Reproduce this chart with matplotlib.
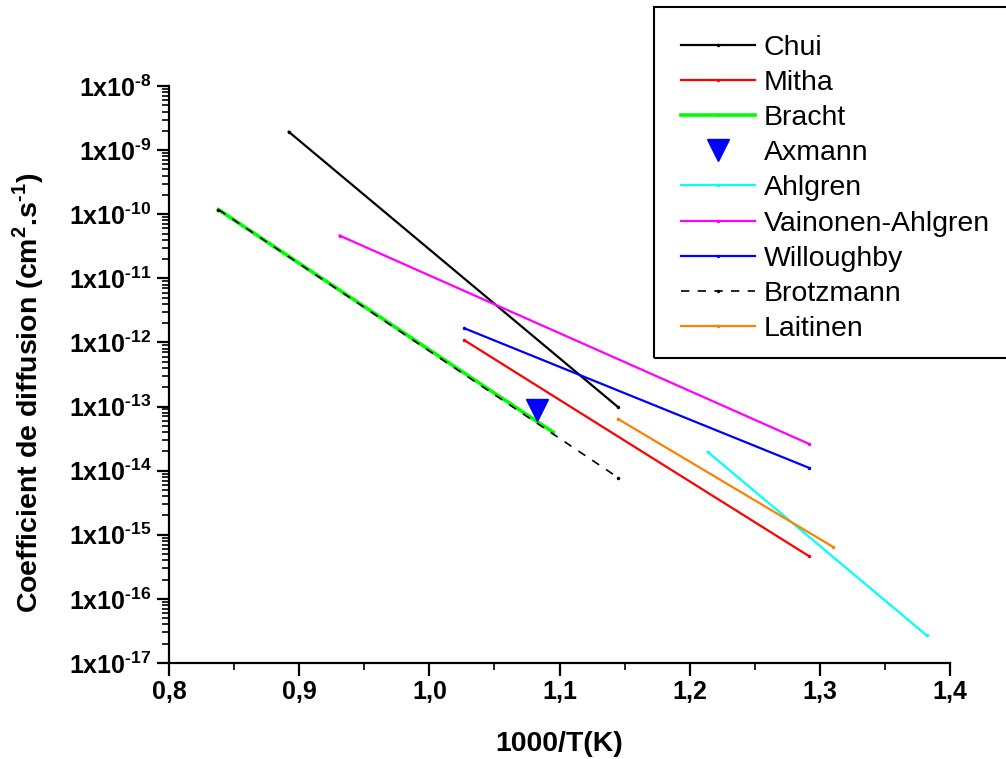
import math
import matplotlib
matplotlib.use('Agg')
import matplotlib.pyplot as plt
import matplotlib.patches as patches
from matplotlib.ticker import MultipleLocator, LogLocator, FuncFormatter, NullFormatter

plt.rcParams['font.family'] = ['Liberation Sans', 'DejaVu Sans']
plt.rcParams['mathtext.fontset'] = 'custom'
plt.rcParams['mathtext.rm'] = 'Liberation Sans:bold'
plt.rcParams['mathtext.bf'] = 'Liberation Sans:bold'

# endpoints of each Arrhenius line (1000/T, D)
chui_x = [0.892, 1.145]
chui_y = [1.93e-9, 9.8e-14]
mitha_x = [1.027, 1.292]
mitha_y = [1.08e-12, 4.6e-16]
bracht_x = [0.838, 1.095]
bracht_y = [1.18e-10, 4.0e-14]
axmann_x = [1.083]
axmann_y = [8.9e-14]
ahlgren_x = [1.214, 1.382]
ahlgren_y = [1.95e-14, 2.7e-17]
vainonen_x = [0.931, 1.292]
vainonen_y = [4.65e-11, 2.6e-14]
willoughby_x = [1.027, 1.292]
willoughby_y = [1.66e-12, 1.1e-14]
brotzmann_x = [0.838, 1.145]
brotzmann_y = [1.18e-10, 7.8e-15]
laitinen_x = [1.145, 1.310]
laitinen_y = [6.4e-14, 6.5e-16]

fig = plt.figure(figsize=(10.06, 7.59), dpi=100)
ax = fig.add_axes([169/1006, 1-663/759, (950-169)/1006, (663-86)/759])

ax.plot(chui_x, chui_y, color='black', lw=1.6, marker='.', ms=3, label='Chui')
ax.plot(mitha_x, mitha_y, color='#ff0000', lw=1.6, marker='.', ms=3, label='Mitha')
ax.plot(bracht_x, bracht_y, color='#00ff00', lw=2.6, marker='.', ms=3, label='Bracht')
ax.plot(axmann_x, axmann_y, color='#0000ff', ls='none', marker='v', ms=16, label='Axmann')
ax.plot(ahlgren_x, ahlgren_y, color='#00ffff', lw=1.6, marker='.', ms=3, label='Ahlgren')
ax.plot(vainonen_x, vainonen_y, color='#ff00ff', lw=1.6, marker='.', ms=3, label='Vainonen-Ahlgren')
ax.plot(willoughby_x, willoughby_y, color='#0000ff', lw=1.6, marker='.', ms=3, label='Willoughby')
ax.plot(brotzmann_x, brotzmann_y, color='black', lw=1.2, ls=(0, (5, 5)), marker='.', ms=3, label='Brotzmann')
ax.plot(laitinen_x, laitinen_y, color='#ff8000', lw=1.6, marker='.', ms=3, label='Laitinen')

ax.set_yscale('log')
ax.set_xlim(0.8, 1.4)
ax.set_ylim(1e-17, 1e-8)

for s in ['top', 'right']:
    ax.spines[s].set_visible(False)
for s in ['left', 'bottom']:
    ax.spines[s].set_linewidth(1.6)

ax.xaxis.set_major_locator(MultipleLocator(0.1))
ax.xaxis.set_minor_locator(MultipleLocator(0.05))
ax.xaxis.set_major_formatter(FuncFormatter(lambda v, p: f'{v:.1f}'.replace('.', ',')))
ax.yaxis.set_major_locator(LogLocator(base=10, numticks=20))
ax.yaxis.set_minor_locator(LogLocator(base=10, subs=range(2, 10), numticks=20))
ax.yaxis.set_minor_formatter(NullFormatter())
ax.yaxis.set_major_formatter(FuncFormatter(
    lambda v, p: r'$\mathbf{1x10^{\text{-}%d}}$' % -round(math.log10(v))))

ax.tick_params(which='major', direction='out', length=9, width=1.6, labelsize=18)
ax.tick_params(which='minor', direction='out', length=5, width=1.2)
for lab in ax.get_xticklabels():
    lab.set_fontweight('bold')

ax.set_xlabel('1000/T(K)', fontsize=20.5, fontweight='bold')
ax.set_ylabel(r'Coefficient de diffusion (cm$^{\mathbf{2}}$.s$^{\text{-}\mathbf{1}}$)',
              fontsize=20.5, fontweight='bold')
ax.xaxis.set_label_coords(0.5, -0.118)
ax.yaxis.set_label_coords(-0.158, 0.468)

fig.legend(loc='upper left', bbox_to_anchor=(681/1006, 1-35/759), frameon=False,
           fontsize=20.5, borderpad=0, handlelength=2.6, handletextpad=0.3,
           labelspacing=0.32, borderaxespad=0)
fig.patches.append(patches.Rectangle((654/1006, 1-358/759), 360/1006, 351/759,
                                     transform=fig.transFigure, fill=False,
                                     edgecolor='black', linewidth=1.5))

fig.savefig('out.png', dpi=100)
